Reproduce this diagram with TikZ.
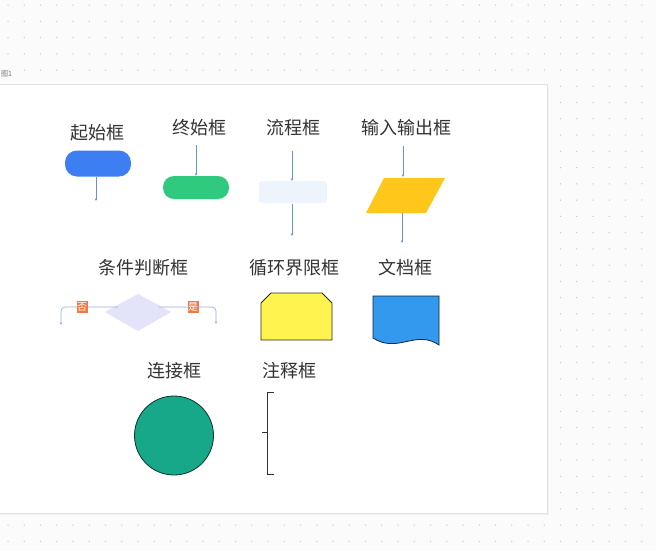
\documentclass[tikz,border=0pt]{standalone}
\usepackage{fontspec}
\newfontfamily\cjk{Noto Sans CJK SC}
\usetikzlibrary{arrows.meta,shapes.geometric}
\definecolor{bgc}{HTML}{FBFBFC}
\definecolor{dotc}{HTML}{CFCFD4}
\definecolor{panelb}{HTML}{E2E2E5}
\definecolor{txt}{HTML}{333333}
\definecolor{startc}{HTML}{3D7EF3}
\definecolor{endc}{HTML}{2FCA7E}
\definecolor{procc}{HTML}{EEF4FC}
\definecolor{ioc}{HTML}{FFC61C}
\definecolor{decc}{HTML}{E3E3FA}
\definecolor{labc}{HTML}{EE7A4A}
\definecolor{loopc}{HTML}{FFF44F}
\definecolor{docc}{HTML}{3399EE}
\definecolor{circc}{HTML}{17A88A}
\definecolor{linkc}{HTML}{6F8FCF}
\definecolor{decl}{HTML}{9AAEE6}
\tikzset{
  title/.style={font=\cjk\fontsize{18}{18}\selectfont, text=txt, inner sep=0pt},
  conn/.style={draw=linkc, line width=0.6pt, -{Stealth[length=2.8pt,width=2.4pt]}},
  decconn/.style={draw=decl, line width=0.7pt, rounded corners=4pt, -{Stealth[length=2.8pt,width=2.4pt]}},
  yn/.style={fill=labc, text=white, font=\cjk\fontsize{10}{10}\selectfont, inner xsep=0.5pt, inner ysep=2pt},
  pill/.style={rounded corners=12pt, minimum width=66pt, minimum height=26pt, inner sep=0pt},
  outl/.style={line width=0.8pt},
}
\begin{document}
\begin{tikzpicture}[x=1pt,y=-1pt]
\useasboundingbox (0,0) rectangle (656,550);
\fill[bgc] (0,0) rectangle (656,550);
\foreach \i in {0,...,39}{
  \foreach \j in {0,...,33}{
    \fill[dotc] ({8+16.25*\i},{5+16.25*\j}) circle (0.75);
  }
}
% panel
\fill[black!6] (-5,86) rectangle (549,515);
\node[anchor=west, font=\cjk\fontsize{7}{7}\selectfont, text=black!55, inner sep=0pt] (fig) at (1,74) {图1};
\filldraw[fill=white, draw=panelb, line width=0.8pt] (-5,84) rectangle (547,513);

% titles
\node[title] (t1) at (97,133) {起始框};
\node[title] (t2) at (199,128) {终始框};
\node[title] (t3) at (293,128) {流程框};
\node[title] (t4) at (406,128) {输入输出框};
\node[title] (t5) at (143,268) {条件判断框};
\node[title] (t6) at (294,268) {循环界限框};
\node[title] (t7) at (405,268) {文档框};
\node[title] (t8) at (174,371) {连接框};
\node[title] (t9) at (289,371) {注释框};

% start
\node[pill, fill=startc] (start) at (98,163.5) {};
\coordinate (startout) at (96,201);
\draw[conn] (96,177) -- (startout);

% terminal
\node[pill, fill=endc, minimum height=23pt, rounded corners=11pt] (term) at (196,187.5) {};
\coordinate (termin) at (196,145);
\draw[conn] (termin) -- (term.north);

% process
\node[fill=procc, rounded corners=3pt, minimum width=68pt, minimum height=22pt, inner sep=0pt] (proc) at (293,192) {};
\coordinate (procin) at (292,151);
\coordinate (procout) at (292,236);
\draw[conn] (procin) -- (292,181);
\draw[conn] (292,204) -- (procout);

% io parallelogram
\coordinate (io1) at (384,178);
\coordinate (io2) at (445,178);
\coordinate (io3) at (426,213);
\coordinate (io4) at (366,213);
\fill[ioc] (io1) -- (io2) -- (io3) -- (io4) -- cycle;
\coordinate (ioin) at (403,146);
\coordinate (ioout) at (402,243);
\draw[conn] (ioin) -- (403,177);
\draw[conn] (402,213) -- (ioout);

% decision
\coordinate (dl) at (105,312);
\coordinate (dt) at (138,294);
\coordinate (dr) at (171,312);
\coordinate (db) at (138,331);
\fill[decc] (dl) -- (dt) -- (dr) -- (db) -- cycle;
\coordinate (dno) at (118,307);
\coordinate (dyes) at (158,307);
\coordinate (noend) at (61,325);
\coordinate (yesend) at (216,324);
\draw[decconn] (dno) -- (61,307) -- (noend);
\draw[decconn] (dyes) -- (216,307) -- (yesend);
\node[yn] (no) at (82,307) {否};
\node[yn] (yes) at (193,307) {是};

% loop limit
\filldraw[fill=loopc, draw=black!70!loopc!60!black, outl] (261,340) -- (261,303) -- (271,293) -- (322,293) -- (332,303) -- (332,340) -- cycle;

% document
\filldraw[fill=docc, draw=black!75!docc, outl] (373,338) -- (373,296) -- (439,296) -- (439,345) .. controls (416,329) and (398,354) .. (373,338) -- cycle;

% connector circle
\node[circle, fill=circc, draw=black!70!circc, outl, minimum size=79pt, inner sep=0pt] (circ) at (174,435.5) {};

% annotation bracket
\draw[black!80, outl] (274,392) -- (267,392) -- (267,474) -- (274,474);
\draw[black!80, outl] (262,432) -- (267,432);
\end{tikzpicture}
\end{document}
